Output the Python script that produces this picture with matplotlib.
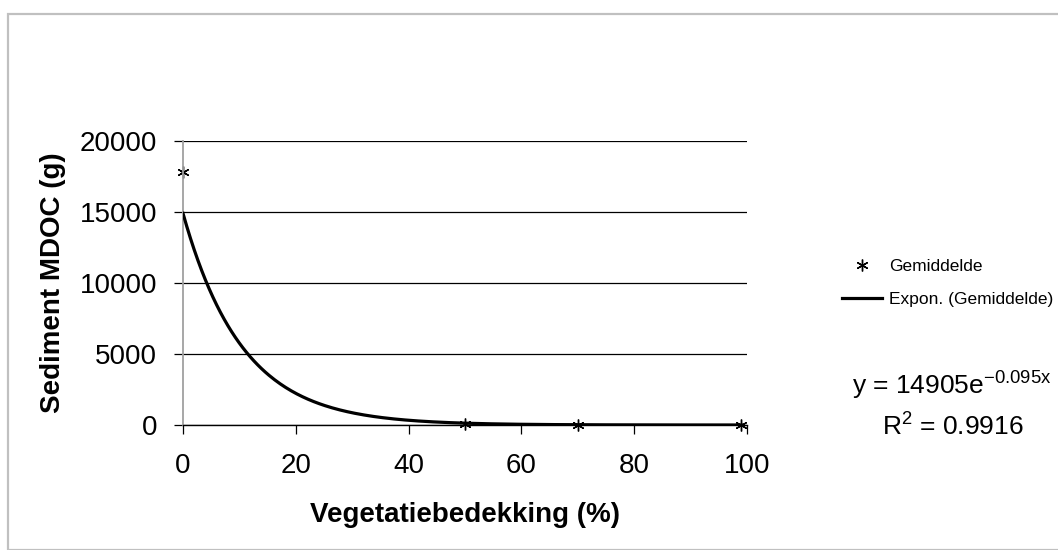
import numpy as np
import matplotlib.pyplot as plt
from matplotlib.patches import Rectangle

plt.rcParams['font.family'] = ['Liberation Sans', 'DejaVu Sans']
plt.rcParams['mathtext.default'] = 'regular'

# Gemiddelde sedimentvracht per bedekkingsgraad
cover = [0, 50, 70, 99]
sediment = [17800, 100, 20, 10]

# exponentiele trendlijn zoals in de grafiek vermeld
fit_a = 14905
fit_b = 0.095
fit_r2 = 0.9916

yticks = [0, 5000, 10000, 15000, 20000]
xticks = [0, 20, 40, 60, 80, 100]

W, H = 1058, 550
fig = plt.figure(figsize=(W / 100, H / 100), dpi=100)
ax = fig.add_axes([183 / W, 1 - 425 / H, (747 - 183) / W, (425 - 141) / H])

# rand rond de figuur
fig.patches.append(Rectangle((8 / W, 0), 1.2, 1 - 13.5 / H, transform=fig.transFigure,
                             fill=False, edgecolor='#c0c0c0', lw=1.6))

xs = np.linspace(cover[0], cover[-1], 300)
ax.plot(cover, sediment, ls='none', marker=(6, 2, 0), ms=8.5, mew=1.0, color='black',
        label='Gemiddelde', zorder=2.2, clip_on=False)
ax.plot(xs, fit_a * np.exp(-fit_b * xs), color='black', lw=2.3,
        label='Expon. (Gemiddelde)', zorder=3)

ax.set_xlim(0, 100)
ax.set_ylim(0, 20000)
ax.set_xticks(xticks)
ax.set_yticks(yticks)
ax.yaxis.grid(True, color='black', lw=0.9)
ax.set_axisbelow(True)
for s in ['top', 'right']:
    ax.spines[s].set_visible(False)
ax.spines['left'].set_color('#a0a0a0')
ax.spines['left'].set_linewidth(1.3)
ax.spines['bottom'].set_color('black')
ax.spines['bottom'].set_linewidth(1.0)
ax.tick_params(axis='both', direction='out', length=6.5, width=0.9, color='black',
               labelsize=20)
ax.tick_params(axis='x', pad=14)
ax.tick_params(axis='y', pad=12)

ax.set_xlabel('Vegetatiebedekking (%)', fontsize=20, fontweight='bold', labelpad=16)
ax.set_ylabel('Sediment MDOC (g)', fontsize=20, fontweight='bold', labelpad=10)

ax.legend(loc='upper left', bbox_to_anchor=(842 / W, 1 - 259 / H), bbox_transform=fig.transFigure,
          frameon=False, fontsize=12.5, handlelength=2.3, handletextpad=0.4,
          labelspacing=1.0, borderaxespad=0, borderpad=0)

fig.text(852 / W, 1 - 386 / H, r'y = %de$^{-%.3fx}$' % (fit_a, fit_b), fontsize=19,
         va='center', ha='left')
fig.text(882 / W, 1 - 427 / H, r'R$^{2}$ = %.4f' % fit_r2, fontsize=19, va='center', ha='left')

fig.savefig('out.png', dpi=100)
